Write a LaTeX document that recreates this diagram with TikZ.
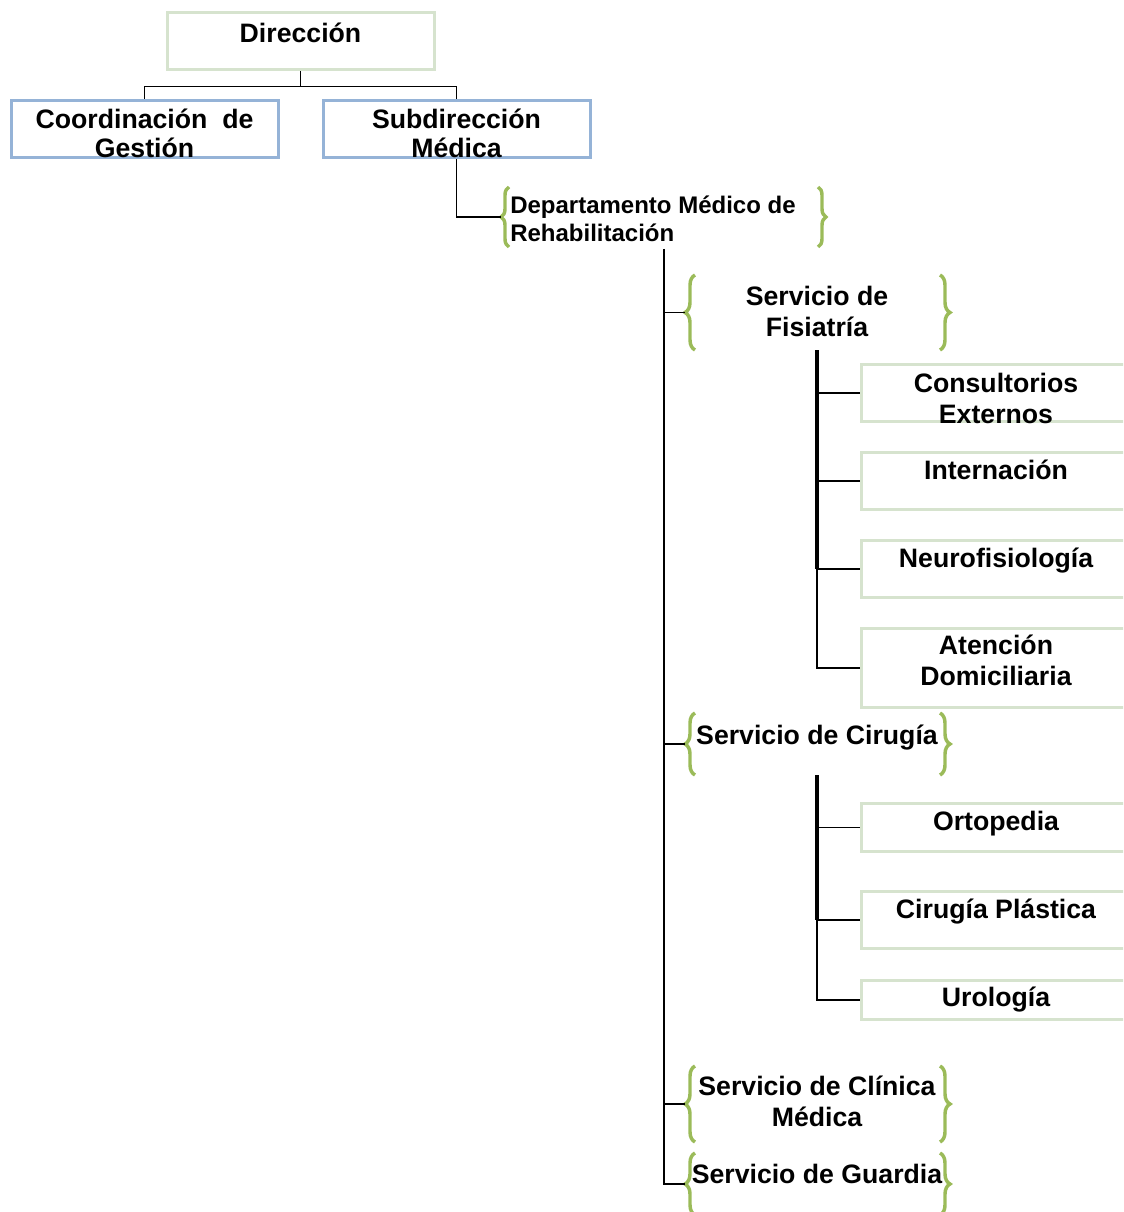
\documentclass[tikz,border=0pt]{standalone}
\usepackage{fontspec}
\setmainfont{Liberation Sans}
\usetikzlibrary{decorations.pathreplacing}
\definecolor{boxgreen}{RGB}{214,227,206}
\definecolor{boxblue}{RGB}{149,179,215}
\definecolor{bracegreen}{RGB}{155,187,89}
\begin{document}
\begin{tikzpicture}[x=0.75pt,y=-0.75pt,
  gbox/.style={draw=boxgreen,line width=2.25pt,inner sep=0,minimum width=267*0.75pt},
  bbox/.style={draw=boxblue,line width=2.25pt,inner sep=0,minimum width=267*0.75pt,minimum height=57*0.75pt},
  rbox/.style={draw=boxgreen,line width=2.25pt,inner sep=0,minimum width=270*0.75pt},
  lbl/.style={anchor=base,inner sep=0,align=center,font=\fontsize{20}{23.25}\selectfont\bfseries},
  lbltop/.style={lbl,font=\fontsize{20}{21.75}\selectfont\bfseries},
  lblsmall/.style={anchor=base west,inner sep=0,align=left,font=\fontsize{18}{21}\selectfont\bfseries},
  conn/.style={line width=1.2pt},
  topconn/.style={line width=1.4pt},
  dtrunk/.style={line width=2pt},
  trunk/.style={line width=2.3pt},
  sbrace/.style={draw=bracegreen,line width=2.6pt,decorate,decoration={brace,amplitude=7.5pt}},
  dbrace/.style={draw=bracegreen,line width=2.6pt,decorate,decoration={brace,amplitude=6pt}},
]
\useasboundingbox (0,0) rectangle (1123,1212);
\clip (0,0) rectangle (1123,1212);

% top level
\node[gbox,minimum height=57*0.75pt] (dir) at (300.5,41.5) {};
\node[lbl] (dirT) at (300.5,42.5) {Dirección};
\node[bbox] (coord) at (144.5,129.5) {};
\node[lbltop] (coordT) at (144.5,158) {Coordinación\ \ de\\Gestión};
\node[bbox] (sub) at (456.5,129.5) {};
\node[lbltop] (subT) at (456.5,158) {Subdirección\\Médica};
\draw[topconn] (dir.south) -- ++(0,15) -| (coord.north);
\draw[topconn] (dir.south) -- ++(0,15) -| (sub.north);

% department
\node[lblsmall] (dept) at (510,242) {Departamento Médico de\\Rehabilitación};
\draw[dbrace] (509,247) -- (509,187);
\draw[dbrace] (818,187) -- (818,247);
\coordinate (deptTip) at (501,217);
\draw[topconn] (sub.south) |- (deptTip);
\coordinate (deptB) at (664,249);

% services
\node[lbl] (fis) at (817,336) {Servicio de\\Fisiatría};
\draw[sbrace] (695,350) -- (695,275);
\draw[sbrace] (940,275) -- (940,350);
\coordinate (fisTip) at (685,312.5);
\coordinate (fisB) at (817,350);

\node[lbl] (cir) at (817,744) {Servicio de Cirugía};
\draw[sbrace] (695,775) -- (695,713);
\draw[sbrace] (940,713) -- (940,775);
\coordinate (cirTip) at (685,744);
\coordinate (cirB) at (817,775);

\node[lbl] (cli) at (817,1126) {Servicio de Clínica\\Médica};
\draw[sbrace] (695,1142) -- (695,1066);
\draw[sbrace] (940,1066) -- (940,1142);
\coordinate (cliTip) at (685,1104);

\node[lbl] (gua) at (817,1183) {Servicio de Guardia};
\draw[sbrace] (695,1215) -- (695,1153);
\draw[sbrace] (940,1153) -- (940,1215);
\coordinate (guaTip) at (685,1184);

\draw[dtrunk] (deptB) |- (guaTip);
\draw[conn] (deptB |- fisTip) -- (fisTip);
\draw[conn] (deptB |- cirTip) -- (cirTip);
\draw[conn] (deptB |- cliTip) -- (cliTip);

% Fisiatría units
\node[rbox,minimum height=57*0.75pt] (cons) at (996.5,393) {};
\node[lbl] (consT) at (996,423) {Consultorios\\Externos};
\node[rbox,minimum height=57*0.75pt] (inter) at (996.5,481) {};
\node[lbl] (interT) at (996,479) {Internación};
\node[rbox,minimum height=57*0.75pt] (neuro) at (996.5,569) {};
\node[lbl] (neuroT) at (996,567) {Neurofisiología};
\node[rbox,minimum height=79*0.75pt] (aten) at (996.5,668) {};
\node[lbl] (atenT) at (996,685) {Atención\\Domiciliaria};
\draw[conn] (fisB) |- (aten.west);
\draw[trunk] (fisB) -- (fisB |- neuro.west);
\draw[conn] (fisB |- cons.west) -- (cons.west);
\draw[conn] (fisB |- inter.west) -- (inter.west);
\draw[conn] (fisB |- neuro.west) -- (neuro.west);

% Cirugía units
\node[rbox,minimum height=48*0.75pt] (orto) at (996.5,827.5) {};
\node[lbl] (ortoT) at (996,830) {Ortopedia};
\node[rbox,minimum height=57*0.75pt] (plast) at (996.5,920) {};
\node[lbl] (plastT) at (996,918) {Cirugía Plástica};
\node[rbox,minimum height=39*0.75pt] (uro) at (996.5,1000) {};
\node[lbl] (uroT) at (996,1006) {Urología};
\draw[conn] (cirB) |- (uro.west);
\draw[trunk] (cirB) -- (cirB |- plast.west);
\draw[conn] (cirB |- orto.west) -- (orto.west);
\draw[conn] (cirB |- plast.west) -- (plast.west);
\end{tikzpicture}
\end{document}
